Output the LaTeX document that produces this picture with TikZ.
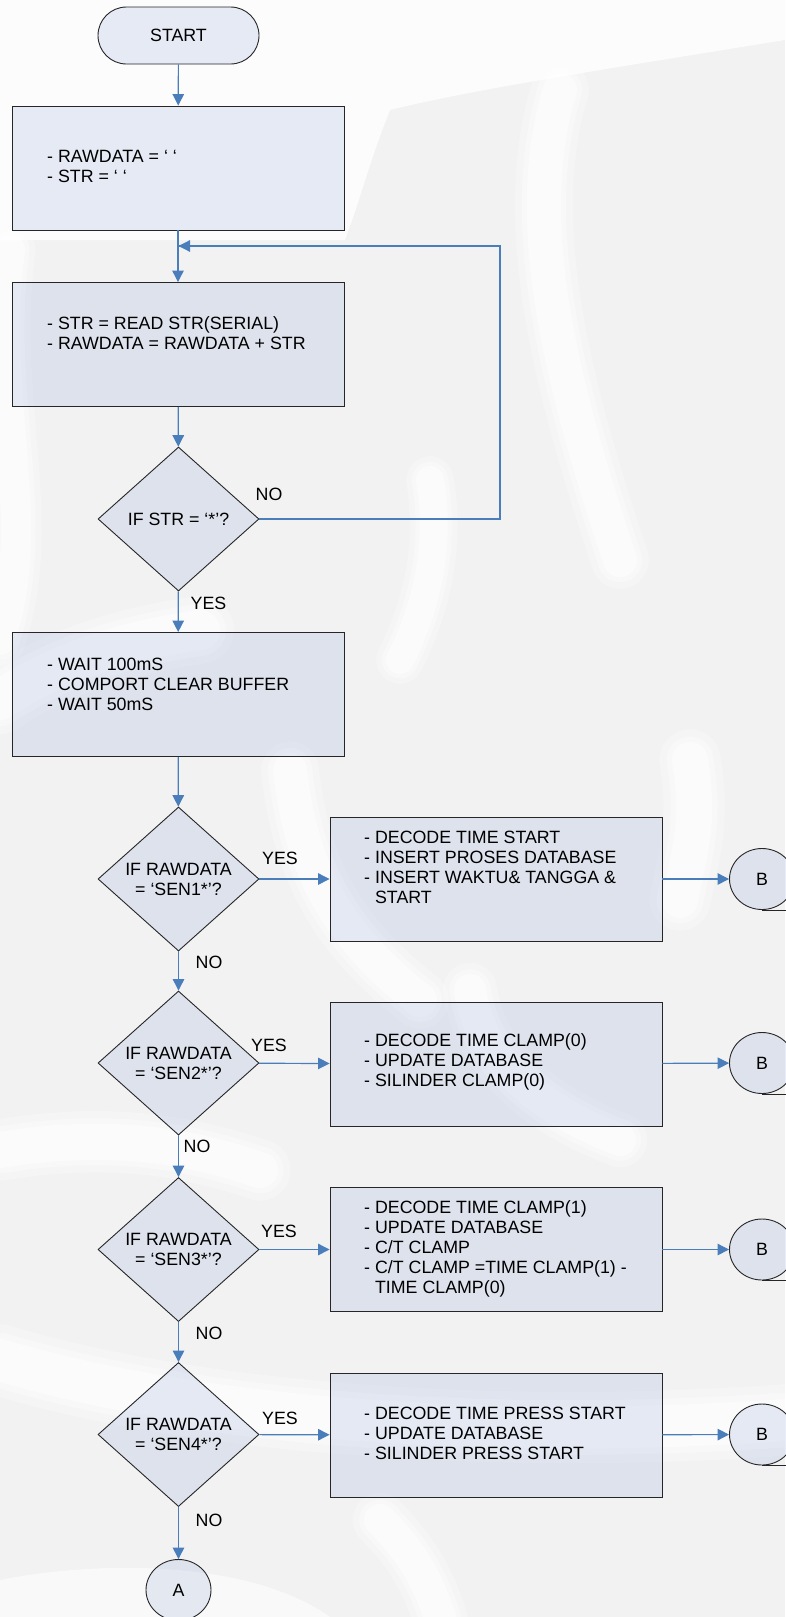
\documentclass[tikz,border=0pt]{standalone}
\usepackage{fontspec}
\setmainfont{Liberation Sans}
\usetikzlibrary{arrows.meta,shapes.geometric}
\definecolor{flow}{RGB}{74,126,187}
\definecolor{paper}{RGB}{242,242,242}
\definecolor{shapefill}{RGB}{102,135,202}
% a soft white band of the watermark: width, path
\newcommand\wmband[2]{%
  \draw[white, line cap=round, line join=round, opacity=0.25, line width=1.7*#1] #2;
  \draw[white, line cap=round, line join=round, opacity=0.35, line width=1.3*#1] #2;
  \draw[white, line cap=round, line join=round, opacity=0.5, line width=#1] #2;}
\begin{document}
\begin{tikzpicture}[x=1pt,y=-1pt,
  font=\fontsize{17.8}{20}\selectfont,
  base/.style={draw=black!85, line width=0.9pt, fill=shapefill, fill opacity=0.15, text opacity=1},
  terminal/.style={base, rectangle, rounded corners=28.5pt, minimum width=161, minimum height=57, inner sep=0},
  procbox/.style={base, rectangle, minimum width=332, minimum height=124, inner sep=0},
  decision/.style={base, diamond, minimum width=161, minimum height=144, inner sep=0, align=center},
  connector/.style={base, ellipse, minimum width=65, minimum height=61, inner sep=0},
  txt/.style={anchor=west, align=left, inner sep=0},
  lbl/.style={inner sep=0},
  flowline/.style={draw=flow, line width=1.2pt},
  flowarrow/.style={flowline, -{Triangle[length=11.5pt,width=11.5pt]}},
]
\useasboundingbox (0,0) rectangle (785,1617);

% watermark background
\fill[paper] (0,0) rectangle (785,1617);
\fill[white, opacity=0.8] (0,0) -- (785,0) -- (785,40) .. controls (600,70) and (470,90) .. (390,110)
    .. controls (370,160) and (360,200) .. (345,240) -- (0,240) -- cycle;
\wmband{30}{(10,250) .. controls (-10,400) and (40,520) .. (0,640)}
\wmband{34}{(560,90) .. controls (520,220) and (560,380) .. (620,560)}
\wmband{28}{(430,480) .. controls (440,540) and (430,600) .. (400,660)}
\wmband{40}{(0,700) .. controls (60,660) and (130,640) .. (200,630)}
\wmband{34}{(290,770) .. controls (300,860) and (330,930) .. (420,1000)}
\wmband{36}{(690,760) .. controls (700,820) and (690,850) .. (680,900)}
\wmband{32}{(470,990) .. controls (480,1060) and (540,1110) .. (620,1140)}
\wmband{36}{(0,1150) .. controls (120,1130) and (200,1150) .. (260,1170)}
\wmband{42}{(0,1360) .. controls (200,1420) and (500,1440) .. (785,1420)}
\wmband{32}{(380,1520) .. controls (420,1560) and (430,1590) .. (440,1617)}
\fill[white, opacity=0.6] (0,1617) -- (0,1580) .. controls (100,1560) and (250,1560) .. (330,1617) -- cycle;

% shapes
\node[terminal] (start) at (178.5,35.5) {START};

\node[procbox] (p1) at (178,168) {};
\node[txt] (t1) at (47,166.5) {- RAWDATA = ‘ ‘\\- STR = ‘ ‘};

\node[procbox] (p2) at (178,344.5) {};
\node[txt] (t2) at (47,333.5) {- STR = READ STR(SERIAL)\\- RAWDATA = RAWDATA + STR};

\node[decision] (d1) at (178.5,519) {IF STR = ‘*’?};

\node[procbox] (p3) at (178,694.5) {};
\node[txt] (t3) at (47,684) {- WAIT 100mS\\- COMPORT CLEAR BUFFER\\- WAIT 50mS};

\node[decision] (d2) at (178.5,879) {IF RAWDATA\\= ‘SEN1*’?};
\node[procbox] (p4) at (496,879) {};
\node[txt] (t4) at (364,867) {- DECODE TIME START\\- INSERT PROSES DATABASE\\- INSERT WAKTU\& TANGGA \&\\\phantom{- }START};
\node[connector] (b1) at (762,879) {B};

\node[decision] (d3) at (178.5,1063) {IF RAWDATA\\= ‘SEN2*’?};
\node[procbox] (p5) at (496,1064) {};
\node[txt] (t5) at (364,1062) {- DECODE TIME CLAMP(0)\\- UPDATE DATABASE\\- SILINDER CLAMP(0)};
\node[connector] (b2) at (762,1063) {B};

\node[decision] (d4) at (178.5,1249.5) {IF RAWDATA\\= ‘SEN3*’?};
\node[procbox] (p6) at (496,1249.5) {};
\node[txt] (t6) at (364,1249) {- DECODE TIME CLAMP(1)\\- UPDATE DATABASE\\- C/T CLAMP\\- C/T CLAMP =TIME CLAMP(1) -\\\phantom{- }TIME CLAMP(0)};
\node[connector] (b3) at (762,1249.5) {B};

\node[decision] (d5) at (178.5,1434.5) {IF RAWDATA\\= ‘SEN4*’?};
\node[procbox] (p7) at (496,1435) {};
\node[txt] (t7) at (364,1433) {- DECODE TIME PRESS START\\- UPDATE DATABASE\\- SILINDER PRESS START};
\node[connector] (b4) at (762,1434.5) {B};

\node[connector] (a) at (178.5,1590) {A};

% connectors
\coordinate (join) at (178.5,246);
\coordinate (loopA) at (500,519);
\coordinate (loopB) at (500,246);

\draw[flowarrow] (start) -- (p1);
\draw[flowarrow] (p1) -- (p2);
\draw[flowline] (d1.east) -- (loopA) -- (loopB) -- (join);
\draw[flowarrow] (loopB) -- (join);
\draw[flowarrow] (p2) -- (d1);
\draw[flowarrow] (d1) -- (p3);
\draw[flowarrow] (p3) -- (d2);
\draw[flowarrow] (d2) -- (p4);
\draw[flowarrow] (p4) -- (b1);
\draw[flowarrow] (d2) -- (d3);
\draw[flowarrow] (d3) -- (p5);
\draw[flowarrow] (p5) -- (b2);
\draw[flowarrow] (d3) -- (d4);
\draw[flowarrow] (d4) -- (p6);
\draw[flowarrow] (p6) -- (b3);
\draw[flowarrow] (d4) -- (d5);
\draw[flowarrow] (d5) -- (p7);
\draw[flowarrow] (p7) -- (b4);
\draw[flowarrow] (d5) -- (a);

% ground strokes under the B connectors
\foreach \c in {b1,b2,b3,b4} \draw[black!85, line width=0.9pt] (\c.south) -- ++(30,0);

% branch labels
\node[lbl] (n1) at (269,494) {NO};
\node[lbl] (y1) at (208.5,603) {YES};
\node[lbl] (y2) at (280,858) {YES};
\node[lbl] (n2) at (209,962) {NO};
\node[lbl] (y3) at (269,1045) {YES};
\node[lbl] (n3) at (197,1146) {NO};
\node[lbl] (y4) at (279,1231) {YES};
\node[lbl] (n4) at (209,1333) {NO};
\node[lbl] (y5) at (280,1418) {YES};
\node[lbl] (n5) at (209,1520) {NO};
\end{tikzpicture}
\end{document}
